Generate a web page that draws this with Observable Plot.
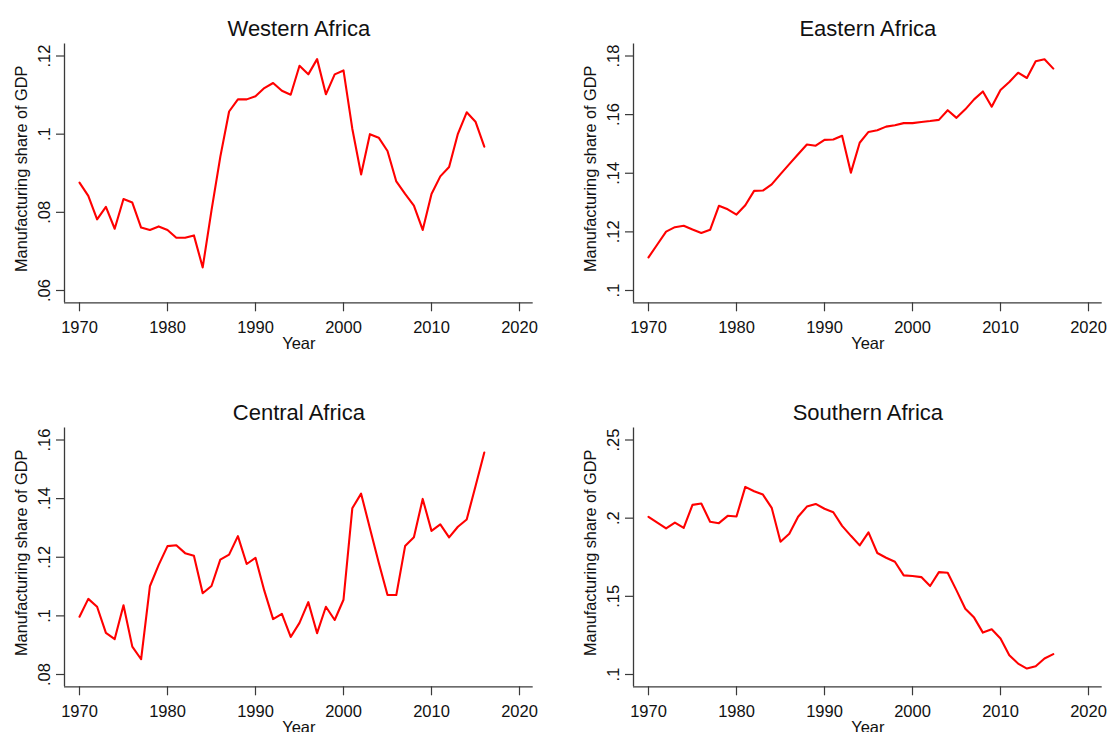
<!DOCTYPE html>
<html>
<head>
<meta charset="utf-8">
<script src="https://cdn.jsdelivr.net/npm/d3@7"></script>
<script src="https://cdn.jsdelivr.net/npm/@observablehq/plot@0.6"></script>
<style>
  html, body { margin: 0; padding: 0; background: #fff; }
  #wrap { position: relative; width: 1109px; height: 732px; overflow: hidden; background: #fff; }
  #wrap > div { position: absolute; width: 560px; height: 360px; }
  #wrap svg { max-width: none !important; width: 560px; height: 360px; display: block; }
</style>
</head>
<body>
<div id="wrap">
  <div id="p0" style="left:0px;top:0px"></div>
  <div id="p1" style="left:569px;top:0px"></div>
  <div id="p2" style="left:0px;top:384.4px"></div>
  <div id="p3" style="left:569px;top:384.4px"></div>
</div>
<script>
const years = [1970,1971,1972,1973,1974,1975,1976,1977,1978,1979,
  1980,1981,1982,1983,1984,1985,1986,1987,1988,1989,
  1990,1991,1992,1993,1994,1995,1996,1997,1998,1999,
  2000,2001,2002,2003,2004,2005,2006,2007,2008,2009,
  2010,2011,2012,2013,2014,2015,2016];

const xTicks = [1970, 1980, 1990, 2000, 2010, 2020];

const titles = ["Western Africa", "Eastern Africa", "Central Africa", "Southern Africa"];

const westernAfrica = [0.0876,0.0842,0.0782,0.0814,0.0758,0.0834,0.0825,0.0761,0.0755,0.0764,
  0.0755,0.0735,0.0735,0.0741,0.0659,0.0805,0.0942,0.1058,0.1089,0.1089,
  0.1097,0.1118,0.1131,0.1111,0.1101,0.1175,0.1153,0.1192,0.1102,0.1153,
  0.1163,0.1014,0.0897,0.1000,0.0991,0.0957,0.0879,0.0847,0.0817,0.0755,
  0.0847,0.0892,0.0916,0.1001,0.1056,0.1032,0.0968];

const easternAfrica = [0.1113,0.1157,0.1201,0.1216,0.1221,0.1208,0.1196,0.1207,0.1289,0.1277,
  0.1259,0.1291,0.1340,0.1341,0.1362,0.1397,0.1431,0.1465,0.1498,0.1494,
  0.1514,0.1515,0.1528,0.1402,0.1504,0.1541,0.1547,0.1559,0.1564,0.1571,
  0.1571,0.1575,0.1578,0.1582,0.1615,0.1589,0.1618,0.1652,0.1679,0.1627,
  0.1684,0.1711,0.1743,0.1725,0.1782,0.1789,0.1757];

const centralAfrica = [0.0997,0.1058,0.1031,0.0942,0.0921,0.1036,0.0895,0.0852,0.1101,0.1174,
  0.1238,0.1241,0.1214,0.1205,0.1077,0.1102,0.1192,0.1209,0.1272,0.1177,
  0.1198,0.1086,0.0989,0.1007,0.0928,0.0976,0.1047,0.0941,0.1031,0.0986,
  0.1055,0.1367,0.1417,0.1299,0.1182,0.1071,0.1071,0.1238,0.1268,0.1399,
  0.1290,0.1312,0.1268,0.1304,0.1329,0.1442,0.1557];

const southernAfrica = [0.2009,0.1972,0.1934,0.1972,0.1938,0.2085,0.2094,0.1977,0.1968,0.2015,
  0.2011,0.2200,0.2172,0.2151,0.2066,0.1849,0.1900,0.2009,0.2074,0.2091,
  0.2060,0.2038,0.1951,0.1887,0.1826,0.1909,0.1777,0.1747,0.1721,0.1634,
  0.1630,0.1623,0.1566,0.1655,0.1651,0.1538,0.1421,0.1364,0.1268,0.1289,
  0.1230,0.1123,0.1070,0.1038,0.1053,0.1102,0.1130];

const yTicksWestern = [0.06, 0.08, 0.10, 0.12];
const yTicksEastern = [0.10, 0.12, 0.14, 0.16, 0.18];
const yTicksCentral = [0.08, 0.10, 0.12, 0.14, 0.16];
const yTicksSouthern = [0.10, 0.15, 0.20, 0.25];

const yLabel = "Manufacturing share of GDP";
const xLabel = "Year";

const W = 560, H = 360;
const ML = 64, MR = 27.3, MT = 43.5, MB = 57.7;
const FONT = "'Liberation Sans', Arial, sans-serif";
const AXIS = "#3a3a3a";
const TEXT = "#111";

function fmt(d) {
  return String(+d.toFixed(2)).replace(/^0/, "");
}

function panel(title, values, yTicks) {
  const data = years.map((yr, i) => ({year: yr, v: values[i]}));
  const frameW = W - ML - MR;
  const pxPerYear = (frameW - 15 - 13.7) / (xTicks[xTicks.length - 1] - xTicks[0]);
  const x0 = xTicks[0] - 15 / pxPerYear;
  const x1 = xTicks[xTicks.length - 1] + 13.7 / pxPerYear;
  const frameH = H - MT - MB;
  const yMin = d3.min(yTicks), yMax = d3.max(yTicks);
  const pxPerUnit = (frameH - 12 - 12.3) / (yMax - yMin);
  const y0 = yMin - 12.3 / pxPerUnit;
  const y1 = yMax + 12 / pxPerUnit;

  return Plot.plot({
    width: W, height: H,
    marginLeft: ML, marginRight: MR, marginTop: MT, marginBottom: MB,
    style: {fontFamily: FONT, fontSize: "16.5px", color: TEXT, background: "transparent", overflow: "visible"},
    x: {domain: [x0, x1], axis: null},
    y: {domain: [y0, y1], axis: null},
    marks: [
      Plot.axisX(xTicks, {
        tickSize: 9, tickPadding: 9.3, tickFormat: d => String(d),
        stroke: AXIS, strokeWidth: 1.2, fill: TEXT, fontSize: 16.5, label: null
      }),
      Plot.axisY(yTicks, {
        tickSize: 8, tickPadding: 12, tickRotate: -90, textAnchor: "middle", lineAnchor: "middle",
        tickFormat: fmt, stroke: AXIS, strokeWidth: 1.2, fill: TEXT, fontSize: 16.5, label: null
      }),
      Plot.ruleY([y0], {stroke: AXIS, strokeWidth: 1.3}),
      Plot.ruleX([x0], {stroke: AXIS, strokeWidth: 1.3}),
      Plot.line(data, {x: "year", y: "v", stroke: "#ff0000", strokeWidth: 2.1}),
      Plot.text([title], {frameAnchor: "top", textAnchor: "middle", lineAnchor: "middle", dy: -14.8, fontSize: 22, fill: TEXT}),
      Plot.text([xLabel], {frameAnchor: "bottom", textAnchor: "middle", lineAnchor: "middle", dy: 41.2, fontSize: 16.5, fill: TEXT}),
      Plot.text([yLabel], {frameAnchor: "left", textAnchor: "middle", lineAnchor: "middle", rotate: -90, dx: -43, dy: -4.6, fontSize: 16.3, fill: TEXT})
    ]
  });
}

document.getElementById("p0").appendChild(panel(titles[0], westernAfrica, yTicksWestern));
document.getElementById("p1").appendChild(panel(titles[1], easternAfrica, yTicksEastern));
document.getElementById("p2").appendChild(panel(titles[2], centralAfrica, yTicksCentral));
document.getElementById("p3").appendChild(panel(titles[3], southernAfrica, yTicksSouthern));
</script>
</body>
</html>
